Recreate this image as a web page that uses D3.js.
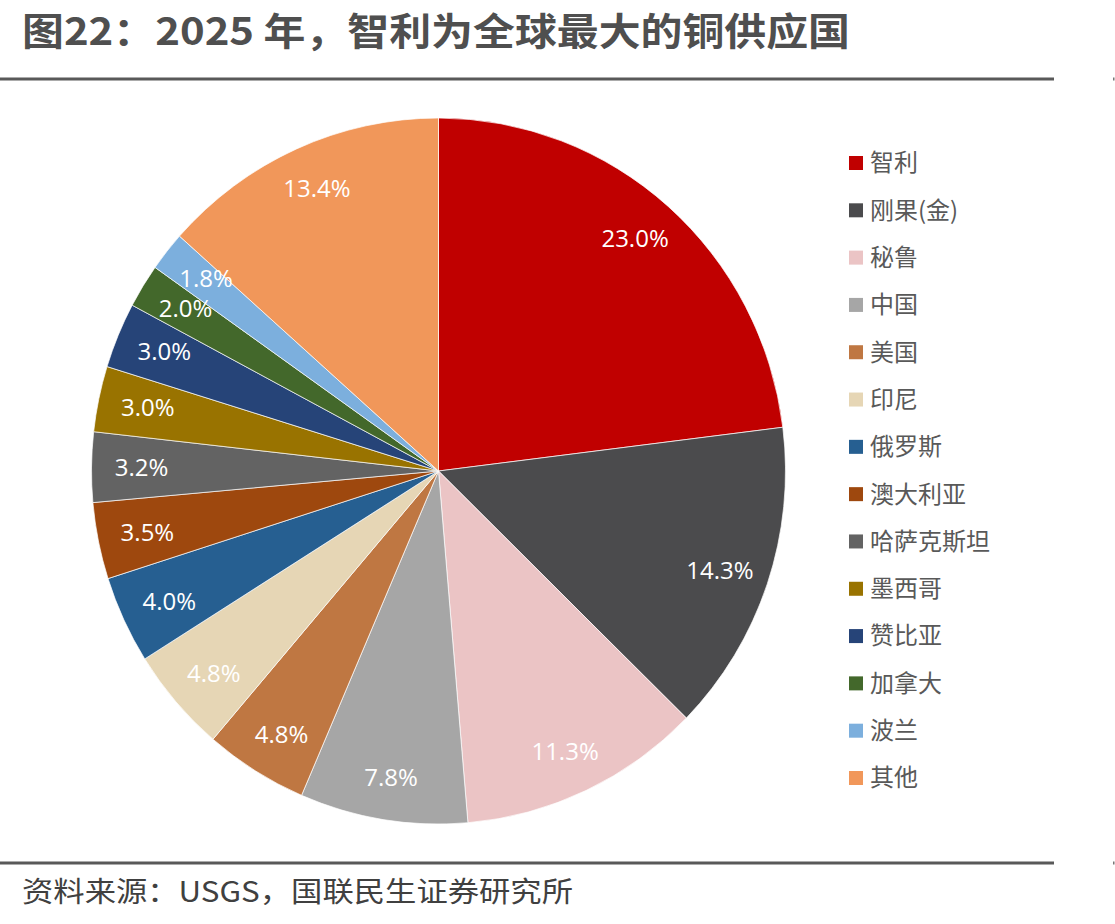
<!DOCTYPE html>
<html>
<head>
<meta charset="utf-8">
<script src="https://cdn.jsdelivr.net/npm/d3@7"></script>
<style>
  body { margin: 0; background: #fff; }
  svg { display: block; }
</style>
</head>
<body>
<svg id="chart" width="1115" height="924"></svg>
<script>
// data
const countries = ["智利", "刚果(金)", "秘鲁", "中国", "美国", "印尼", "俄罗斯", "澳大利亚", "哈萨克斯坦", "墨西哥", "赞比亚", "加拿大", "波兰", "其他"];
const shares = [23.0, 14.3, 11.3, 7.8, 4.8, 4.8, 4.0, 3.5, 3.2, 3.0, 3.0, 2.0, 1.8, 13.4];
const colors = ["#C00000", "#4B4B4D", "#EBC4C5", "#A6A6A6", "#BF7742", "#E6D6B5", "#265F91", "#9E480E", "#636363", "#997300", "#264478", "#43682B", "#7CAFDD", "#F1975A"];

const title = "图22：2025 年，智利为全球最大的铜供应国";
const source = "资料来源：USGS，国联民生证券研究所";

const svg = d3.select('#chart');
const cjk = '"Noto Sans CJK SC", "Microsoft YaHei", sans-serif';

// title + rules
svg.append("text")
    .attr("x", 22).attr("y", 45)
    .attr("font-family", cjk)
    .attr("font-weight", "bold")
    .attr("font-size", 38)
    .attr("textLength", 828)
    .attr("lengthAdjust", "spacingAndGlyphs")
    .attr("fill", "#4f4f4f")
    .text(title);

[79, 863].forEach(function(y){
    svg.append("line")
        .attr("x1", 0).attr("x2", 1054)
        .attr("y1", y).attr("y2", y)
        .attr("stroke", "#595959")
        .attr("stroke-width", 3);
    svg.append("rect")
        .attr("x", 1113).attr("y", y - 1.5)
        .attr("width", 1.5).attr("height", 3)
        .attr("fill", "#777");
});

svg.append("text")
    .attr("x", 22).attr("y", 902)
    .attr("font-family", cjk)
    .attr("font-size", 28)
    .attr("textLength", 551)
    .attr("lengthAdjust", "spacingAndGlyphs")
    .attr("fill", "#404040")
    .text(source);

// pie (slightly wider than tall in the reference)
let cx = 438.5, cy = 471, r = 353, sx = 347 / 353;
let data = countries.map(function(c, i){ return {name: c, value: shares[i], color: colors[i]} });

let pie = d3.pie().sort(null).value(function(d){ return d.value });
let arc = d3.arc().innerRadius(0).outerRadius(r);
let labelArc = d3.arc().innerRadius(r).outerRadius(r);
let lrx = 297 / r, lry = 310 / r;

let arcs = pie(data);

let g = svg.append("g").attr("transform", "translate(" + cx + "," + cy + ") scale(" + sx + ",1)");

g.selectAll(".slice")
    .data(arcs)
    .enter()
    .append("path")
    .attr("class", "slice")
    .attr("d", arc)
    .attr("fill", function(d){ return d.data.color })
    .attr("stroke", "#ffffff")
    .attr("stroke-width", 0.7);

let lg = svg.append("g").attr("transform", "translate(" + cx + "," + cy + ")");
lg.selectAll(".lbl")
    .data(arcs)
    .enter()
    .append("text")
    .attr("class", "lbl")
    .attr("transform", function(d){
        let c = labelArc.centroid(d);
        return "translate(" + (c[0] * lrx) + "," + (c[1] * lry) + ")";
    })
    .attr("text-anchor", "middle")
    .attr("dy", "0.36em")
    .attr("font-family", '"Open Sans", "Noto Sans", sans-serif')
    .attr("font-size", 24)
    .attr("fill", "#ffffff")
    .text(function(d){ return d.data.value.toFixed(1) + "%" });

// legend
let ly = d3.scalePoint()
    .domain(countries)
    .range([163, 778]);

let legend = svg.selectAll(".leg")
    .data(data)
    .enter()
    .append("g")
    .attr("class", "leg")
    .attr("transform", function(d){ return "translate(849," + ly(d.name) + ")" });

legend.append("rect")
    .attr("x", 0).attr("y", -7)
    .attr("width", 14).attr("height", 14)
    .attr("fill", function(d){ return d.color });

legend.append("text")
    .attr("x", 21).attr("y", 0)
    .attr("dy", "0.35em")
    .attr("font-family", cjk)
    .attr("font-size", 24)
    .attr("fill", "#595959")
    .text(function(d){ return d.name });
</script>
</body>
</html>
